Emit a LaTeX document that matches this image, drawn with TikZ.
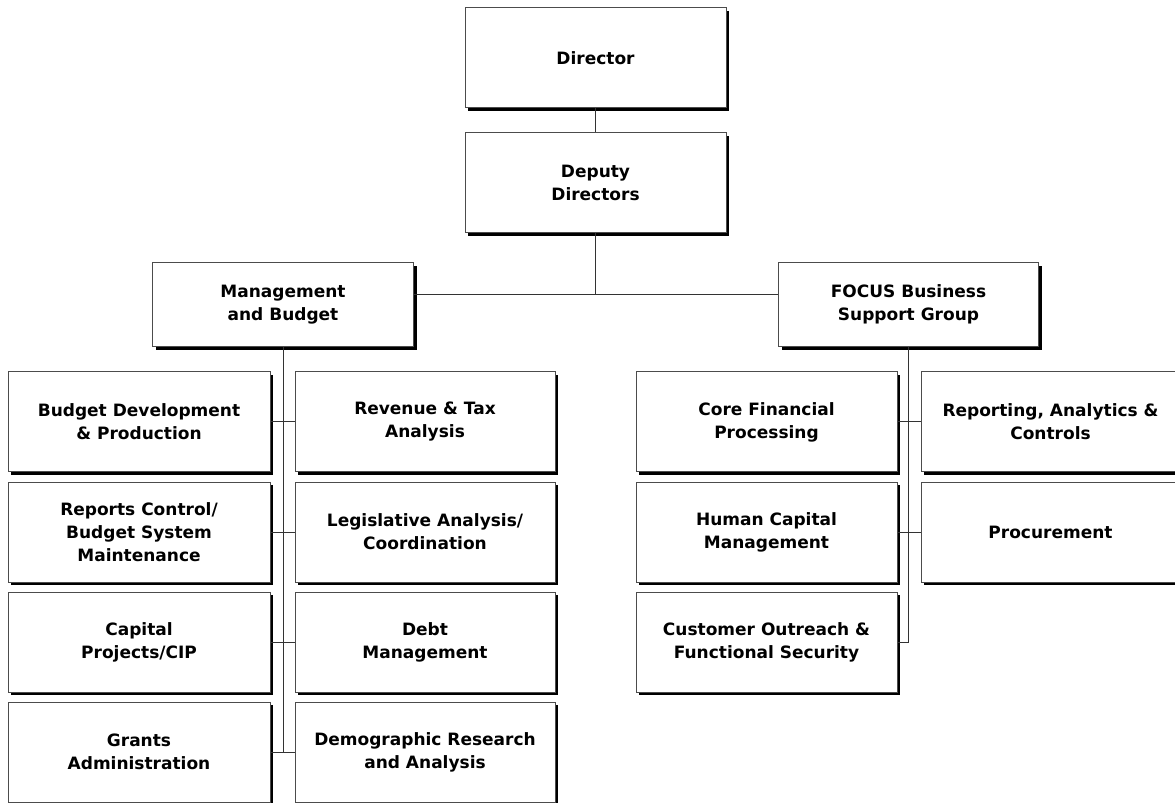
\documentclass[tikz,border=0pt]{standalone}
\usepackage{fontspec}
\setmainfont{DejaVu Sans}
\usetikzlibrary{shadows}

\begin{document}
\begin{tikzpicture}[x=0.6pt,y=-0.6pt,
  box/.style={draw=black!70, line width=0.6pt, fill=white, align=center,
    minimum width=#1*0.6pt, minimum height=60pt, inner sep=2pt,
    font=\fontsize{10.2}{13.8}\selectfont\bfseries,
    drop shadow={shadow xshift=1.9pt, shadow yshift=-1.9pt, fill=black, opacity=1}},
  box/.default=261,
  headbox/.style={box=#1, minimum height=50.4pt},
  link/.style={draw=black!80, line width=0.6pt}]
  \useasboundingbox (0,0) rectangle (1175,803);

  % top of the chart
  \node[box] (dir) at (595.5,58) {Director};
  \node[box] (dep) at (595.5,183) {Deputy\\Directors};
  \node[headbox=261] (mb) at (283,304.5) {Management\\and Budget};
  \node[headbox=260] (focus) at (908.5,304.5) {FOCUS Business\\Support Group};
  \coordinate (hub) at (595.5,295);

  % management and budget units
  \node[box=262] (bdp) at (139,422) {Budget Development\\\& Production};
  \node[box=262] (rcb) at (139,532) {Reports Control/\\Budget System\\Maintenance};
  \node[box=262] (cap) at (139,642) {Capital\\Projects/CIP};
  \node[box=262] (gra) at (139,752) {Grants\\Administration};
  \node[box=260] (rev) at (425,422) {Revenue \& Tax\\Analysis};
  \node[box=260] (leg) at (425,532) {Legislative Analysis/\\Coordination};
  \node[box=260] (debt) at (425,642) {Debt\\Management};
  \node[box=260] (dem) at (425,752) {Demographic Research\\and Analysis};
  \coordinate (mbend) at (283,752);

  % FOCUS units
  \node[box] (cfp) at (766.5,422) {Core Financial\\Processing};
  \node[box] (hcm) at (766.5,532) {Human Capital\\Management};
  \node[box] (cof) at (766.5,642) {Customer Outreach \&\\Functional Security};
  \node[box=259] (rac) at (1050.5,422) {Reporting, Analytics \&\\Controls};
  \node[box=259] (proc) at (1050.5,532) {Procurement};

  % connectors
  \draw[link] (dir) -- (dep);
  \draw[link] (dep) -- (hub);
  \draw[link] (mb.east |- hub) -- (focus.west |- hub);
  \draw[link] (mb) -- (mbend);
  \foreach \a/\b in {bdp/rev, rcb/leg, cap/debt, gra/dem}
    \draw[link] (\a.east) -- (\b.west);
  \draw[link] (focus.south) |- (cof.east);
  \draw[link] (cfp.east) -- (rac.west);
  \draw[link] (hcm.east) -- (proc.west);
\end{tikzpicture}
\end{document}
